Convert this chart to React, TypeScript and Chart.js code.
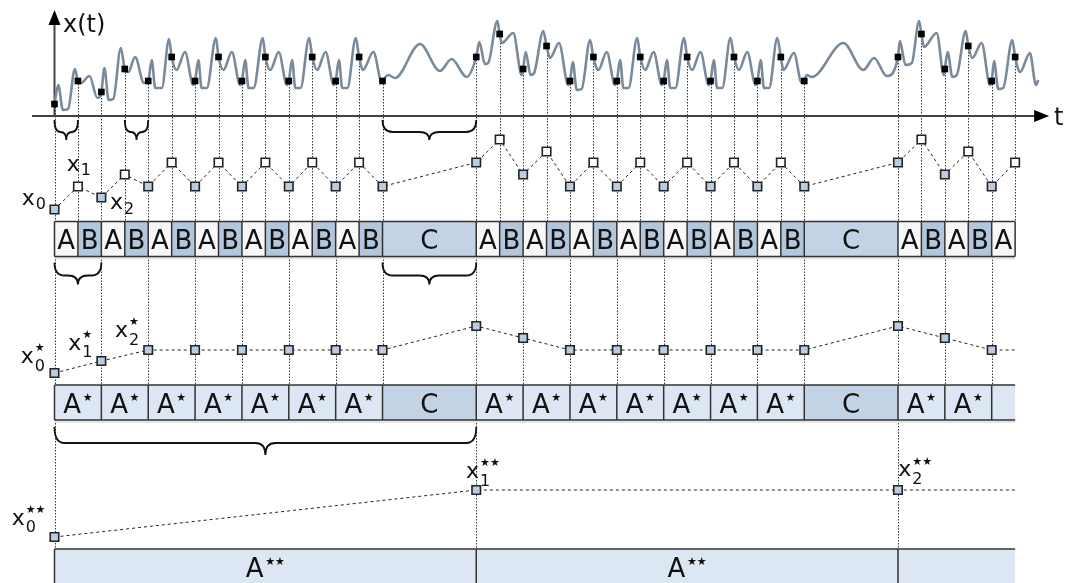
import React, { useEffect, useRef } from 'react';
import { Chart, registerables } from 'chart.js';

Chart.register(...registerables);

const FONT = '"DejaVu Sans", Verdana, sans-serif';

// ---------------- data (t in sampling periods, values in signal units) ----------------
// control points (peaks / troughs) of the continuous signal x(t)
const signalT = [
  0.16, 0.36, 0.58, 0.87, 1.13, 1.49, 1.83, 2.13, 2.31, 2.51, 2.83, 3.15, 3.44, 3.82, 4.15, 4.3, 4.58, 4.89,
  5.21, 5.57, 5.92, 6.14, 6.28, 6.5, 6.89,
  7.21, 7.57, 7.92, 8.14, 8.28, 8.5, 8.89,
  9.21, 9.57, 9.92, 10.14, 10.28, 10.5, 10.87,
  11.21, 11.57, 11.92, 12.14, 12.28, 12.5, 12.86,
  13.16, 13.61, 13.97, 14.25, 14.53, 15.6, 16.45, 16.95, 17.59,
  18.13, 18.37, 18.51, 18.9, 19.09, 19.58, 19.94, 20.11, 20.32, 20.47, 20.86, 21.15, 21.53, 21.93, 22.12, 22.29, 22.5, 22.86,
  23.21, 23.57, 23.92, 24.14, 24.28, 24.5, 24.87,
  25.21, 25.57, 25.92, 26.14, 26.28, 26.5, 26.87,
  27.21, 27.57, 27.92, 28.14, 28.28, 28.5, 28.85,
  29.21, 29.57, 29.92, 30.14, 30.28, 30.5, 30.85,
  31.11, 31.56, 31.89, 32.1, 32.32, 33.67, 34.52, 34.98, 35.52,
  36.08, 36.32, 36.59, 36.9, 37.11, 37.65, 37.96, 38.12, 38.32, 38.51, 38.89, 39.17, 39.57, 39.93, 40.1, 40.28, 40.49, 40.88,
  41.21, 41.63, 41.89, 41.99,
];
const signalV = [
  3.1, 0.6, 0.7, 4.7, 3.3, 4.0, 1.8, 4.8, 1.6, 1.7, 6.8, 4.4, 5.9, 3.3, 5.6, 2.8, 2.8, 7.7,
  4.6, 6.4, 3.1, 5.6, 2.8, 2.8, 7.8,
  4.6, 6.4, 3.1, 5.6, 2.8, 2.8, 7.8,
  4.6, 6.4, 3.1, 5.6, 2.8, 2.8, 7.8,
  4.6, 6.4, 3.1, 5.6, 2.8, 2.8, 7.8,
  4.6, 6.4, 3.4, 4.1, 3.8, 7.2, 4.5, 5.7, 3.9,
  7.4, 5.2, 5.3, 9.5, 7.3, 8.3, 4.1, 6.4, 4.1, 4.3, 8.5, 5.8, 7.3, 3.1, 5.4, 2.6, 2.7, 7.6,
  4.6, 6.4, 3.1, 5.6, 2.8, 2.8, 7.8,
  4.6, 6.4, 3.1, 5.6, 2.8, 2.8, 7.8,
  4.6, 6.4, 3.1, 5.6, 2.8, 2.8, 7.8,
  4.6, 6.4, 3.1, 5.6, 2.8, 2.8, 7.8,
  4.6, 6.3, 3.3, 4.1, 3.9, 7.3, 4.6, 5.8, 4.0,
  7.5, 5.1, 5.3, 9.5, 6.9, 8.3, 4.1, 6.4, 3.9, 4.1, 8.5, 5.8, 7.3, 3.1, 5.5, 2.7, 2.8, 7.6,
  4.4, 6.3, 3.1, 3.6,
];

// samples x_n
const sampleT = [
  0, 1, 2, 3, 4, 5, 6, 7, 8, 9, 10, 11, 12, 13, 14,
  18, 19, 20, 21, 22, 23, 24, 25, 26, 27, 28, 29, 30, 31, 32,
  36, 37, 38, 39, 40, 41,
];
const sampleV = [
  1.2, 3.5, 2.4, 4.7, 3.5, 5.9, 3.5, 5.9, 3.5, 5.9, 3.5, 5.9, 3.5, 5.9, 3.5,
  5.9, 8.2, 4.7, 7.0, 3.5, 5.9, 3.5, 5.9, 3.5, 5.9, 3.5, 5.9, 3.5, 5.9, 3.5,
  5.9, 8.2, 4.7, 7.0, 3.5, 5.9,
];

// samples x*_n
const starT = [0, 2, 4, 6, 8, 10, 12, 14, 18, 20, 22, 24, 26, 28, 30, 32, 36, 38, 40];
const starV = [1.2, 2.4, 3.5, 3.5, 3.5, 3.5, 3.5, 3.5, 5.9, 4.7, 3.5, 3.5, 3.5, 3.5, 3.5, 3.5, 5.9, 4.7, 3.5];

// samples x**_n
const dstarT = [0, 18, 36];
const dstarV = [1.2, 5.9, 5.9];

const lineEndT = 41;

// cell rows
const abStart = [0, 1, 2, 3, 4, 5, 6, 7, 8, 9, 10, 11, 12, 13, 14, 18, 19, 20, 21, 22, 23, 24, 25, 26, 27, 28, 29, 30, 31, 32, 36, 37, 38, 39, 40];
const abEnd = [1, 2, 3, 4, 5, 6, 7, 8, 9, 10, 11, 12, 13, 14, 18, 19, 20, 21, 22, 23, 24, 25, 26, 27, 28, 29, 30, 31, 32, 36, 37, 38, 39, 40, 41];
const abLabel = [
  'A', 'B', 'A', 'B', 'A', 'B', 'A', 'B', 'A', 'B', 'A', 'B', 'A', 'B', 'C',
  'A', 'B', 'A', 'B', 'A', 'B', 'A', 'B', 'A', 'B', 'A', 'B', 'A', 'B', 'C',
  'A', 'B', 'A', 'B', 'A',
];

const starStart = [0, 2, 4, 6, 8, 10, 12, 14, 18, 20, 22, 24, 26, 28, 30, 32, 36, 38, 40];
const starEnd = [2, 4, 6, 8, 10, 12, 14, 18, 20, 22, 24, 26, 28, 30, 32, 36, 38, 40, 41];
const starLabel = ['A*', 'A*', 'A*', 'A*', 'A*', 'A*', 'A*', 'C', 'A*', 'A*', 'A*', 'A*', 'A*', 'A*', 'A*', 'C', 'A*', 'A*', ''];

const dstarStart = [0, 18, 36];
const dstarEnd = [18, 36, 41];
const dstarLabel = ['A**', 'A**', ''];

// braces [from, to]
const topBraces = [[0, 1], [3, 4], [14, 18]];
const midBraces = [[0, 2], [14, 18]];
const lowBraces = [[0, 18]];

// ---------------- layout ----------------
const W = 1068;
const H = 583;
const T0_PX = 54.5;
const PX_PER_T = 23.43;
const PX_PER_UNIT = 10;
const BOX = 3.5; // box height in value units

const rowAxis = (basePx: number) => ({
  type: 'linear' as const,
  display: false,
  min: (basePx - H) / PX_PER_UNIT,
  max: basePx / PX_PER_UNIT,
});

const COLORS = {
  A: '#f7f7f7',
  B: '#b3c6dc',
  C: '#c3d3e5',
  star: '#dde7f3',
  pointBlue: '#b9cce1',
  border: '#333333',
  text: '#111111',
  signal: '#7a8a9a',
};

function drawBrace(ctx: CanvasRenderingContext2D, x1: number, x2: number, yTop: number, yMid: number, yTip: number) {
  const xm = (x1 + x2) / 2;
  const r = Math.min(10, (x2 - x1) / 4);
  ctx.beginPath();
  ctx.moveTo(x1, yTop);
  ctx.quadraticCurveTo(x1, yMid, x1 + r, yMid);
  ctx.lineTo(xm - r, yMid);
  ctx.quadraticCurveTo(xm, yMid, xm, yTip);
  ctx.quadraticCurveTo(xm, yMid, xm + r, yMid);
  ctx.lineTo(x2 - r, yMid);
  ctx.quadraticCurveTo(x2, yMid, x2, yTop);
  ctx.stroke();
}

function drawMath(ctx: CanvasRenderingContext2D, left: number, base: number, sub: string, stars: number, drop: number) {
  ctx.fillStyle = COLORS.text;
  ctx.textAlign = 'left';
  ctx.textBaseline = 'alphabetic';
  ctx.font = `22px ${FONT}`;
  ctx.fillText('x', left, base);
  const sx = left + ctx.measureText('x').width + 1;
  ctx.font = `16px ${FONT}`;
  ctx.fillText(sub, sx, base + drop);
  if (stars > 0) {
    ctx.font = `11px ${FONT}`;
    ctx.textBaseline = 'middle';
    ctx.fillText('★'.repeat(stars), sx, base - 14.7);
    ctx.textBaseline = 'alphabetic';
  }
}

function drawCells(
  ctx: CanvasRenderingContext2D,
  X: (t: number) => number,
  yTop: number,
  yBot: number,
  starts: number[],
  ends: number[],
  labels: string[],
  fillFor: (l: string) => string,
  closeRight: boolean,
) {
  for (let i = 0; i < starts.length; i++) {
    ctx.fillStyle = fillFor(labels[i]);
    ctx.fillRect(X(starts[i]), yTop, X(ends[i]) - X(starts[i]), yBot - yTop);
  }
  // soft shadow below
  ctx.fillStyle = '#e2e2e2';
  ctx.fillRect(X(starts[0]), yBot + 0.75, X(ends[ends.length - 1]) - X(starts[0]), 2);
  ctx.strokeStyle = COLORS.border;
  ctx.lineWidth = 1.5;
  ctx.beginPath();
  ctx.moveTo(X(starts[0]), yTop);
  ctx.lineTo(X(ends[ends.length - 1]), yTop);
  ctx.moveTo(X(starts[0]), yBot);
  ctx.lineTo(X(ends[ends.length - 1]), yBot);
  for (let i = 0; i < starts.length; i++) {
    ctx.moveTo(X(starts[i]), yTop);
    ctx.lineTo(X(starts[i]), yBot);
  }
  if (closeRight) {
    ctx.moveTo(X(ends[ends.length - 1]), yTop);
    ctx.lineTo(X(ends[ends.length - 1]), yBot);
  }
  ctx.stroke();
  const base = (yTop + yBot) / 2 + 10;
  for (let i = 0; i < starts.length; i++) {
    const l = labels[i];
    if (!l) continue;
    const main = l[0];
    const stars = l.length - 1;
    const cx = (X(starts[i]) + X(ends[i])) / 2;
    ctx.font = `26px ${FONT}`;
    const wm = ctx.measureText(main).width;
    ctx.font = `11px ${FONT}`;
    const ws = stars > 0 ? ctx.measureText('★'.repeat(stars)).width + 1.5 : 0;
    const x0 = cx - (wm + ws) / 2;
    ctx.fillStyle = COLORS.text;
    ctx.textAlign = 'left';
    ctx.textBaseline = 'alphabetic';
    ctx.font = `26px ${FONT}`;
    ctx.fillText(main, x0, base);
    if (stars > 0) {
      ctx.font = `11px ${FONT}`;
      ctx.textBaseline = 'middle';
      ctx.fillText('★'.repeat(stars), x0 + wm + 1.5, base - 14);
    }
  }
}

const diagramPlugin = {
  id: 'diagram',
  beforeDatasetsDraw(chart: any) {
    const ctx: CanvasRenderingContext2D = chart.ctx;
    const X = (t: number) => chart.scales.x.getPixelForValue(t);
    const Xc = (t: number) => Math.round(X(t)) + 0.5;
    const Y = (id: string, v: number) => chart.scales[id].getPixelForValue(v);
    ctx.save();

    // dotted verticals
    ctx.strokeStyle = '#333';
    ctx.lineWidth = 1;
    ctx.setLineDash([1.5, 1.5]);
    ctx.beginPath();
    sampleT.forEach((t, i) => {
      ctx.moveTo(Xc(t), Y('ySig', sampleV[i]));
      ctx.lineTo(Xc(t), Y('yRow2', 0));
    });
    starT.forEach((t) => {
      ctx.moveTo(Xc(t), Y('yRow2', -BOX));
      ctx.lineTo(Xc(t), Y('yRow3', 0));
    });
    dstarT.forEach((t) => {
      ctx.moveTo(Xc(t), Y('yRow3', -BOX));
      ctx.lineTo(Xc(t), Y('yRow4', 0));
    });
    ctx.stroke();
    ctx.setLineDash([]);

    // cell rows
    drawCells(ctx, X, Y('yRow2', 0), Y('yRow2', -BOX), abStart, abEnd, abLabel,
      (l) => (l === 'A' ? COLORS.A : l === 'B' ? COLORS.B : COLORS.C), true);
    drawCells(ctx, X, Y('yRow3', 0), Y('yRow3', -BOX), starStart, starEnd, starLabel,
      (l) => (l === 'C' ? COLORS.C : COLORS.star), false);
    drawCells(ctx, X, Y('yRow4', 0), Y('yRow4', -BOX), dstarStart, dstarEnd, dstarLabel,
      () => COLORS.star, false);

    // axes
    const yAx = Y('ySig', 0);
    const x0 = X(0);
    const tipX = X(42.45);
    const tipY = Y('ySig', 10.6);
    ctx.strokeStyle = '#444';
    ctx.fillStyle = '#000';
    ctx.lineWidth = 2;
    ctx.beginPath();
    ctx.moveTo(X(-0.96), yAx);
    ctx.lineTo(tipX - 10, yAx);
    ctx.moveTo(x0, yAx);
    ctx.lineTo(x0, tipY + 10);
    ctx.stroke();
    ctx.beginPath();
    ctx.moveTo(tipX, yAx);
    ctx.lineTo(tipX - 15, yAx - 6);
    ctx.lineTo(tipX - 15, yAx + 6);
    ctx.closePath();
    ctx.fill();
    ctx.beginPath();
    ctx.moveTo(x0, tipY);
    ctx.lineTo(x0 - 6, tipY + 15);
    ctx.lineTo(x0 + 6, tipY + 15);
    ctx.closePath();
    ctx.fill();

    // braces
    ctx.strokeStyle = '#111';
    ctx.lineWidth = 1.8;
    topBraces.forEach(([a, b]) => drawBrace(ctx, X(a), X(b), Y('ySig', -0.4), Y('ySig', -1.6), Y('ySig', -2.4)));
    midBraces.forEach(([a, b]) => drawBrace(ctx, X(a), X(b), Y('yRow2', -4.1), Y('yRow2', -5.4), Y('yRow2', -6.3)));
    lowBraces.forEach(([a, b]) => drawBrace(ctx, X(a), X(b), Y('yRow3', -4.2), Y('yRow3', -5.8), Y('yRow3', -7.0)));

    ctx.restore();
  },
  afterDatasetsDraw(chart: any) {
    const ctx: CanvasRenderingContext2D = chart.ctx;
    const X = (t: number) => chart.scales.x.getPixelForValue(t);
    const Y = (id: string, v: number) => chart.scales[id].getPixelForValue(v);
    ctx.save();
    ctx.fillStyle = COLORS.text;
    ctx.textAlign = 'left';
    ctx.textBaseline = 'alphabetic';
    ctx.font = `24px ${FONT}`;
    ctx.fillText('x(t)', X(0) + 8.5, Y('ySig', 8.4));
    ctx.font = `24px ${FONT}`;
    ctx.fillText('t', X(42.45) + 5, Y('ySig', -0.9));

    const labels: [string, number, number, number, number, string, number, number][] = [
      ['yRow2', 0, 1.2, -32.8, -4.5, '0', 0, 4.3],
      ['yRow2', 1, 3.5, -11.2, -15.8, '1', 0, 4.3],
      ['yRow2', 2, 2.4, 8.6, 11.5, '2', 0, 5.3],
      ['yRow3', 0, 1.2, -33.8, -9.7, '0', 1, 7.4],
      ['yRow3', 2, 2.4, -33.1, -11, '1', 1, 7.4],
      ['yRow3', 4, 3.5, -33.2, -12.7, '2', 1, 7.4],
      ['yRow4', 0, 1.2, -42.8, -12.3, '0', 2, 7.5],
      ['yRow4', 18, 5.9, -10.2, -12, '1', 2, 7.5],
      ['yRow4', 36, 5.9, 0.3, -13.6, '2', 2, 7.5],
    ];
    labels.forEach(([id, t, v, dx, dy, sub, stars, drop]) => {
      drawMath(ctx, X(t) + dx, Y(id, v) + dy, sub, stars, drop);
    });
    ctx.restore();
  },
};

export default function App() {
  const canvasRef = useRef<HTMLCanvasElement | null>(null);

  useEffect(() => {
    if (!canvasRef.current) return;
    const curve = signalT
      .map((t, i) => ({ x: t, y: signalV[i] }))
      .concat(sampleT.map((t, i) => ({ x: t, y: sampleV[i] })))
      .sort((a, b) => a.x - b.x);
    const samples = sampleT.map((t, i) => ({ x: t, y: sampleV[i] }));
    const stars = starT.map((t, i) => ({ x: t, y: starV[i] })).concat([{ x: lineEndT, y: starV[starV.length - 1] }]);
    const dstars = dstarT.map((t, i) => ({ x: t, y: dstarV[i] })).concat([{ x: lineEndT, y: dstarV[dstarV.length - 1] }]);

    const rowPoint = {
      borderColor: '#222',
      borderWidth: 1,
      borderDash: [3, 3],
      pointStyle: 'rect' as const,
      pointBorderColor: '#222',
      pointBorderWidth: 1.6,
      fill: false,
      tension: 0,
    };

    const chart = new Chart(canvasRef.current, {
      type: 'line',
      data: {
        datasets: [
          {
            label: 'samples',
            data: samples,
            yAxisID: 'ySig',
            showLine: false,
            pointStyle: 'rect',
            pointRadius: 4.7,
            pointBackgroundColor: '#000',
            pointBorderWidth: 0,
          },
          {
            label: 'x(t)',
            data: curve,
            yAxisID: 'ySig',
            borderColor: COLORS.signal,
            borderWidth: 2.6,
            pointRadius: 0,
            cubicInterpolationMode: 'monotone',
            fill: false,
          },
          {
            label: 'x_n',
            data: samples,
            yAxisID: 'yRow2',
            ...rowPoint,
            pointRadius: 6,
            pointBackgroundColor: (c: any) => (sampleT[c.dataIndex] % 2 === 0 ? COLORS.pointBlue : '#ffffff'),
          },
          {
            label: 'x*_n',
            data: stars,
            yAxisID: 'yRow3',
            ...rowPoint,
            pointRadius: (c: any) => (c.dataIndex < starT.length ? 6 : 0),
            pointBackgroundColor: COLORS.pointBlue,
          },
          {
            label: 'x**_n',
            data: dstars,
            yAxisID: 'yRow4',
            ...rowPoint,
            pointRadius: (c: any) => (c.dataIndex < dstarT.length ? 6 : 0),
            pointBackgroundColor: COLORS.pointBlue,
          },
        ],
      } as any,
      options: {
        animation: false,
        responsive: true,
        maintainAspectRatio: false,
        events: [],
        layout: { padding: 0, autoPadding: false },
        plugins: { legend: { display: false }, tooltip: { enabled: false } },
        scales: {
          x: { type: 'linear', display: false, min: -T0_PX / PX_PER_T, max: (W - T0_PX) / PX_PER_T },
          ySig: rowAxis(116),
          yRow2: rowAxis(221.5),
          yRow3: rowAxis(385),
          yRow4: rowAxis(549),
        },
      } as any,
      plugins: [diagramPlugin],
    });
    return () => chart.destroy();
  }, []);

  return (
    <div style={{ position: 'absolute', left: 0, top: 0, width: W, height: H, background: '#fff' }}>
      <canvas ref={canvasRef} />
    </div>
  );
}
